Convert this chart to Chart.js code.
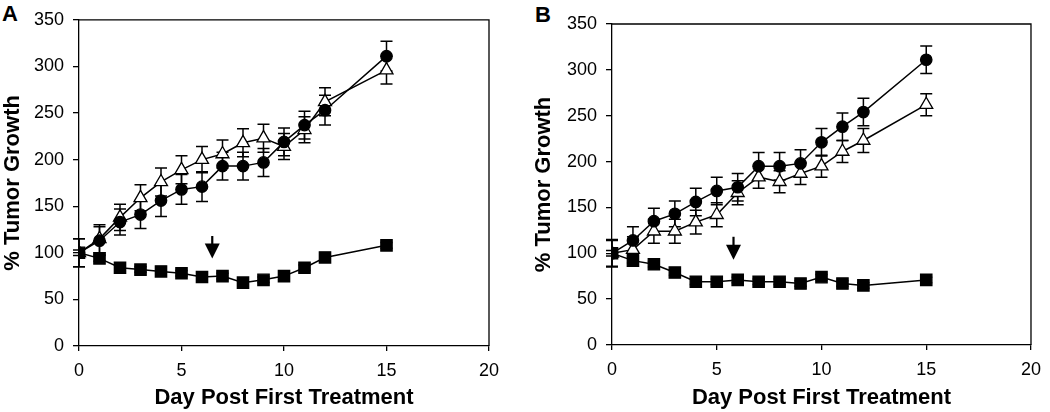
<!DOCTYPE html>
<html>
<head>
<meta charset="utf-8">
<script src="https://cdn.jsdelivr.net/npm/chart.js@4/dist/chart.umd.min.js"></script>
<style>
  body { margin: 0; background: #fff; width: 1050px; height: 412px; position: relative; overflow: hidden; }
  .panel { position: absolute; top: 0; height: 412px; }
  .letter { position: absolute; font: bold 22px "Liberation Sans", Arial, sans-serif; color: #000; }
</style>
</head>
<body>
<div class="letter" style="left:2px; top:1px;">A</div>
<div class="letter" style="left:535px; top:2px;">B</div>
<div class="panel" style="left:0; width:520px;"><canvas id="chartA"></canvas></div>
<div class="panel" style="left:525px; width:525px;"><canvas id="chartB"></canvas></div>
<script>
// days after first treatment
const days = [0, 1, 2, 3, 4, 5, 6, 7, 8, 9, 10, 11, 12, 15];

// panel A
const circlesA = [100, 113, 133, 141, 156, 168, 171, 193, 193, 197, 219, 237, 253, 311];
const circlesAErr = [15, 15, 14, 15, 17, 16, 16, 15, 15, 15, 15, 15, 16, 16];
const trianglesA = [100, 115, 138, 159, 176, 189, 200, 206, 218, 223, 214, 232, 262, 296];
const trianglesAErr = [15, 15, 14, 14, 15, 15, 14, 15, 15, 15, 14, 14, 15, 15];
const squaresA = [100, 94, 84, 82, 80, 78, 74, 75, 68, 71, 75, 84, 95, 108];
const squaresAErr = [3, 3, 3, 3, 3, 3, 3, 3, 3, 3, 3, 3, 3, 3];
const arrowA = [6.5, 118, 94]; // day, top, tip

// panel B
const circlesB = [100, 114, 135, 143, 156, 168, 172, 195, 195, 198, 221, 238, 254, 311];
const circlesBErr = [15, 15, 14, 14, 15, 15, 15, 15, 15, 15, 15, 15, 15, 15];
const trianglesB = [100, 104, 124, 124, 134, 142, 166, 183, 178, 187, 195, 211, 223, 262];
const trianglesBErr = [14, 14, 13, 13, 13, 13, 13, 12, 12, 12, 12, 12, 13, 12];
const squaresB = [100, 92, 88, 79, 69, 69, 71, 69, 69, 67, 74, 67, 65, 71];
const squaresBErr = [3, 3, 3, 3, 3, 3, 3, 3, 3, 3, 3, 3, 3, 3];
const arrowB = [5.8, 118, 93];

const xTicks = [0, 5, 10, 15, 20];
const yTicks = [0, 50, 100, 150, 200, 250, 300, 350];

const FONT = '"Liberation Sans", Arial, Helvetica, sans-serif';

function toPoints(vals) {
  return vals.map((v, i) => ({ x: days[i], y: v }));
}

// error bars, drawn under the markers
const errorBars = {
  id: "errorBars",
  beforeDatasetsDraw(chart) {
    const ctx = chart.ctx;
    const xs = chart.scales.x, ys = chart.scales.y;
    ctx.save();
    ctx.strokeStyle = "#000";
    ctx.lineWidth = 1.5;
    chart.data.datasets.forEach(ds => {
      ds.errors.forEach((e, i) => {
        const px = xs.getPixelForValue(ds.data[i].x);
        const top = ys.getPixelForValue(ds.data[i].y + e);
        const bot = ys.getPixelForValue(ds.data[i].y - e);
        ctx.beginPath();
        ctx.moveTo(px, top); ctx.lineTo(px, bot);
        ctx.moveTo(px - 6, top); ctx.lineTo(px + 6, top);
        ctx.moveTo(px - 6, bot); ctx.lineTo(px + 6, bot);
        ctx.stroke();
      });
    });
    ctx.restore();
  }
};

// frame on top/right plus the treatment arrow
const frameArrow = {
  id: "frameArrow",
  afterDraw(chart, args, opts) {
    const ctx = chart.ctx;
    const a = chart.chartArea;
    ctx.save();
    ctx.strokeStyle = "#000";
    ctx.lineWidth = 1.3;
    ctx.beginPath();
    ctx.moveTo(a.left, a.top); ctx.lineTo(a.right, a.top); ctx.lineTo(a.right, a.bottom);
    ctx.stroke();

    const arr = opts.arrow;
    const px = chart.scales.x.getPixelForValue(arr[0]);
    const y0 = chart.scales.y.getPixelForValue(arr[1]);
    const y1 = chart.scales.y.getPixelForValue(arr[2]);
    ctx.lineWidth = 2.2;
    ctx.beginPath();
    ctx.moveTo(px, y0); ctx.lineTo(px, y1 - 12);
    ctx.stroke();
    ctx.fillStyle = "#000";
    ctx.beginPath();
    ctx.moveTo(px - 7.5, y1 - 15); ctx.lineTo(px + 7.5, y1 - 15); ctx.lineTo(px, y1);
    ctx.closePath();
    ctx.fill();
    ctx.restore();
  }
};

function makeChart(id, circles, cErr, tris, tErr, squares, sErr, arrow, pad, yWidth, xHeight, yTitlePad) {
  const line = { borderColor: "#000", borderWidth: 1.5, showLine: true, pointBorderColor: "#000", pointBorderWidth: 1.3 };
  return new Chart(document.getElementById(id), {
    type: "scatter",
    data: {
      datasets: [
        Object.assign({ data: toPoints(squares), errors: sErr, pointStyle: "rect", pointRadius: 8, pointBackgroundColor: "#000" }, line),
        Object.assign({ data: toPoints(circles), errors: cErr, pointStyle: "circle", pointRadius: 5.7, pointBackgroundColor: "#000" }, line),
        Object.assign({ data: toPoints(tris), errors: tErr, pointStyle: "triangle", pointRadius: 7.5, pointBackgroundColor: "#fff" }, line),
      ],
    },
    options: {
      responsive: true,
      maintainAspectRatio: false,
      animation: false,
      layout: { padding: pad },
      plugins: { legend: { display: false }, tooltip: { enabled: false }, frameArrow: { arrow: arrow } },
      scales: {
        x: {
          type: "linear", min: 0, max: 20,
          afterBuildTicks: s => { s.ticks = xTicks.map(v => ({ value: v })); },
          afterFit: s => { s.height = xHeight; },
          grid: { drawOnChartArea: false, drawTicks: true, tickLength: 5, color: "#000", lineWidth: 1.3 },
          border: { color: "#000", width: 1.3 },
          ticks: { color: "#000", font: { family: FONT, size: 18 }, padding: 9, maxRotation: 0 },
          title: { display: true, text: "Day Post First Treatment", color: "#000", font: { family: FONT, size: 22, weight: "bold" }, padding: { top: 0, bottom: 1 } },
        },
        y: {
          type: "linear", min: 0, max: 350,
          afterBuildTicks: s => { s.ticks = yTicks.map(v => ({ value: v })); },
          afterFit: s => { s.width = yWidth; },
          grid: { drawOnChartArea: false, drawTicks: true, tickLength: 6, color: "#000", lineWidth: 1.3 },
          border: { color: "#000", width: 1.3 },
          ticks: { color: "#000", font: { family: FONT, size: 18 }, padding: 9 },
          title: { display: true, text: "% Tumor Growth", color: "#000", font: { family: FONT, size: 22, weight: "bold" }, padding: { top: yTitlePad, bottom: 0 } },
        },
      },
    },
    plugins: [errorBars, frameArrow],
  });
}

makeChart("chartA", circlesA, circlesAErr, trianglesA, trianglesAErr, squaresA, squaresAErr, arrowA,
  { left: 0, top: 11, right: 31, bottom: 0 }, 79, 66, 0);
makeChart("chartB", circlesB, circlesBErr, trianglesB, trianglesBErr, squaresB, squaresBErr, arrowB,
  { left: 0, top: 24, right: 13, bottom: 0 }, 87, 67, 6);
</script>
</body>
</html>
